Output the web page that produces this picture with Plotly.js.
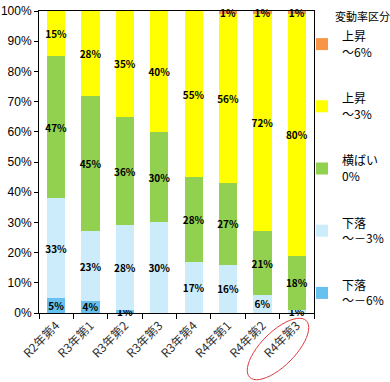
<!DOCTYPE html>
<html><head><meta charset="utf-8">
<script src="https://cdn.plot.ly/plotly-3.0.1.min.js"></script>
<style>html,body{margin:0;padding:0;background:#fff}#c{width:390px;height:382px}</style>
</head><body><div id="c"></div>
<script>
var categories = ["R2年第4","R3年第1","R3年第2","R3年第3","R3年第4","R4年第1","R4年第2","R4年第3"];
var down6 = [5, 4, 1, 0, 0, 0, 0, 0];
var down3 = [33, 23, 28, 30, 17, 16, 6, 1];
var flat  = [47, 45, 36, 30, 28, 27, 21, 18];
var up3   = [15, 28, 35, 40, 55, 56, 72, 80];
var up6   = [0, 0, 0, 0, 0, 1, 1, 1];
var seriesNames = ["下落<br>～－6%","下落<br>～－3%","横ばい<br>0%","上昇<br>～3%","上昇<br>～6%"];
var legendTitle = "変動率区分";
var yTicks = [0,10,20,30,40,50,60,70,80,90,100];

var colors = ["#66C1EF","#CCECFC","#92D050","#FFFF00","#F79646"];
var series = [down6, down3, flat, up3, up6];
var tf = {family:"Noto Sans CJK JP", size:10, color:"#000000", weight:"bold"};
var traces = series.map(function(vals, i){
  return {
    type:"bar", x:categories, y:vals, name:seriesNames[i],
    legendgroup:"g"+i, legendrank:100-i,
    marker:{color:colors[i], line:{width:0}},
    text: vals.map(function(v){return v>0 ? v+"%" : "";}),
    textposition:"inside", insidetextanchor:"middle", constraintext:"none",
    textangle:0, cliponaxis:false,
    textfont:tf, insidetextfont:tf, outsidetextfont:tf,
    hoverinfo:"skip"
  };
});

var L=39, R=76, T=11, B=69, W=390, H=382;
var pw=W-L-R, ph=H-T-B;
function px2x(p){return (p-L)/pw;}
function py2y(p){return (H-B-p)/ph;}
// tilted ellipse decoration
var cx=278, cy=349, a=40, b=17, ang=-Math.PI/4, pts=[];
for(var k=0;k<=48;k++){
  var t=2*Math.PI*k/48;
  var ex=a*Math.cos(t), ey=b*Math.sin(t);
  var X=cx+ex*Math.cos(ang)-ey*Math.sin(ang);
  var Y=cy+ex*Math.sin(ang)+ey*Math.cos(ang);
  pts.push((k?"L":"M")+px2x(X).toFixed(4)+","+py2y(Y).toFixed(4));
}
var layout = {
  width:W, height:H, margin:{l:L,r:R,t:T,b:B, autoexpand:false},
  paper_bgcolor:"#fff", plot_bgcolor:"#fff",
  barmode:"stack", bargap:0.47,
  showlegend:true,
  legend:{xref:"container", yref:"container", x:302/W, xanchor:"left", y:1-22/H, yanchor:"top",
    traceorder:"grouped", tracegroupgap:28, maxheight:400,
    font:{family:"Noto Sans CJK JP", size:12, color:"#000"},
    itemwidth:30, bgcolor:"rgba(0,0,0,0)"},
  annotations:[{text:legendTitle, xref:"paper", yref:"paper",
    x:px2x(333), y:py2y(16), xanchor:"left", yanchor:"middle", showarrow:false,
    font:{family:"Noto Sans CJK JP", size:11, color:"#000"}}],
  xaxis:{showline:true, linecolor:"#000", linewidth:1, mirror:true,
    ticks:"outside", ticklen:5, tickcolor:"#000", tickson:"boundaries",
    tickangle:-45, tickfont:{family:"Noto Sans CJK JP", size:12, color:"#333"},
    showgrid:false, zeroline:false},
  yaxis:{range:[0,100], showline:true, linecolor:"#000", linewidth:1, mirror:true,
    ticks:"outside", ticklen:4, tickcolor:"#000",
    tickvals:yTicks, ticktext:yTicks.map(function(v){return v+"%";}),
    tickfont:{family:"Liberation Sans", size:12, color:"#000"},
    showgrid:false, zeroline:false},
  shapes:[{type:"path", xref:"paper", yref:"paper", path:pts.join("")+"Z",
    line:{color:"#E0393E", width:1}, fillcolor:"rgba(0,0,0,0)"}]
};
Plotly.newPlot("c", traces, layout, {displayModeBar:false, staticPlot:true});
</script></body></html>
